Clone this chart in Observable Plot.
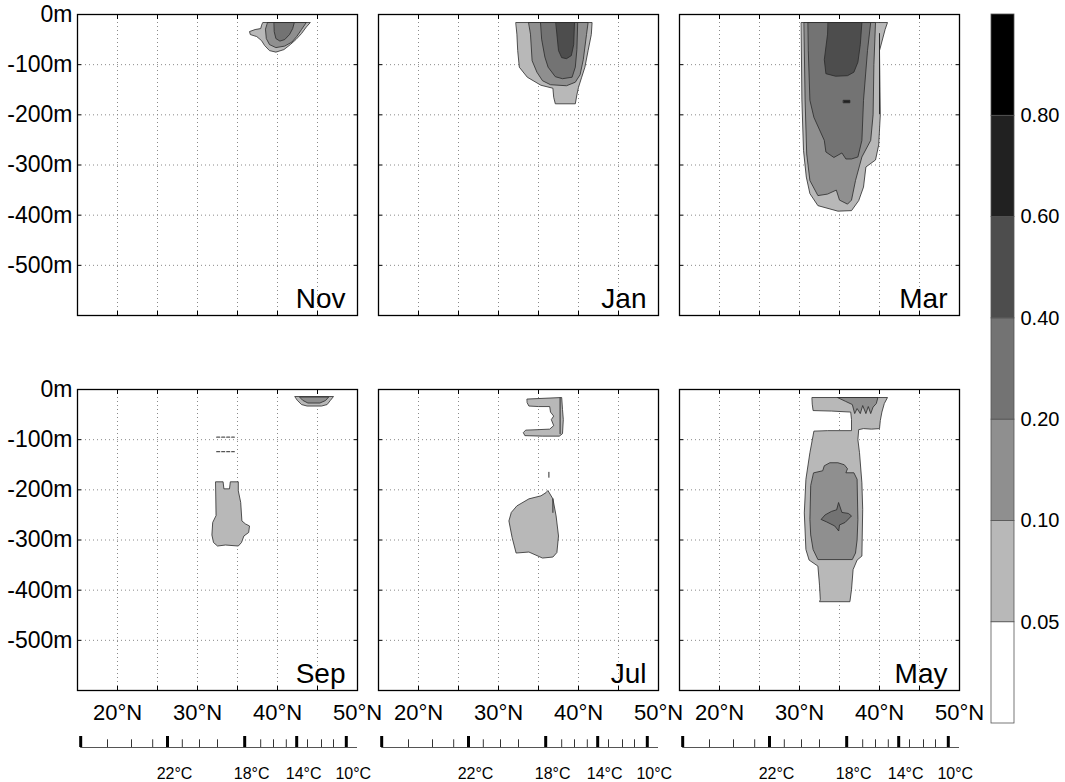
<!DOCTYPE html>
<html><head><meta charset="utf-8">
<script src="https://cdn.jsdelivr.net/npm/d3@7"></script>
<script src="https://cdn.jsdelivr.net/npm/@observablehq/plot@0.6"></script>
<style>
body{margin:0;background:#fff;}
#fig{position:relative;width:1065px;height:782px;overflow:hidden;background:#fff;font-family:"Liberation Sans",Arial,Helvetica,sans-serif;}
#fig svg{position:absolute;}
</style></head><body><div id="fig"></div>
<script>
// ---------- data ----------
const months = ["Nov", "Jan", "Mar", "Sep", "Jul", "May"];
const levels = [0.05, 0.1, 0.2, 0.4, 0.6, 0.8];
const levelGrays = ["#ffffff", "#b8b8b8", "#8f8f8f", "#737373", "#4d4d4d", "#212121", "#000000"];
const depthTicks = [0, -100, -200, -300, -400, -500];
const latGrid = [20, 25, 30, 35, 40, 45];
const latLabels = [20, 30, 40, 50];
const latDomain = [15, 50];
const depthDomain = [-600, 0];
// temperature ruler: temperature (°C) and latitude where its tick sits
const tempC   = [26, 25, 24, 23, 22, 21, 20, 19, 18, 17, 16, 15, 14, 13, 12, 11, 10];
const tempLat = [15.4, 18.75, 21.75, 24.4, 26.25, 28.1, 30.25, 32.5, 35.9, 37.9, 39.5, 41.1, 42.4, 43.75, 45.5, 47.0, 48.6];

// contour regions [lat, depth] for each month, level = lower bound of class
const nov = [
  {level: 0.05, pts: [[38.2,-16],[44.1,-16],[43.6,-25],[43.0,-38],[42.3,-50],[41.6,-60],[40.8,-70],[39.8,-75],[39.0,-72],[38.4,-62],[38.0,-52],[37.4,-44],[36.6,-40],[36.5,-34],[37.2,-30],[37.9,-28],[38.0,-22]]},
  {level: 0.1, pts: [[38.8,-16],[43.6,-16],[43.0,-30],[42.4,-44],[41.8,-55],[40.9,-63],[39.8,-66],[39.0,-60],[38.6,-48],[38.5,-30]]},
  {level: 0.2, pts: [[39.6,-16],[42.1,-16],[41.9,-28],[41.5,-40],[40.9,-50],[40.3,-53],[39.8,-48],[39.6,-35]]}
];
const jan = [
  {level: 0.05, pts: [[32.2,-16],[41.7,-16],[41.6,-40],[41.2,-72],[40.8,-105],[40.4,-125],[40.0,-145],[39.8,-160],[39.6,-178],[37.1,-178],[36.9,-165],[36.8,-147],[35.3,-141],[33.6,-125],[32.6,-105],[32.4,-72],[32.3,-40]]},
  {level: 0.1, pts: [[33.8,-16],[41.2,-16],[41.0,-40],[40.6,-90],[40.2,-120],[39.6,-135],[38.5,-142],[36.5,-140],[35.5,-132],[34.8,-115],[34.2,-92],[34.0,-40]]},
  {level: 0.2, pts: [[35.3,-16],[39.9,-16],[39.8,-70],[39.6,-105],[39.2,-125],[38.0,-128],[37.1,-124],[36.2,-105],[35.8,-85],[35.4,-50]]},
  {level: 0.4, pts: [[37.2,-16],[39.5,-16],[39.4,-60],[39.1,-82],[38.5,-88],[37.9,-86],[37.5,-72],[37.3,-40]]}
];
const mar = [
  {level: 0.05, pts: [[30.25,-16],[41.0,-16],[40.7,-30],[40.0,-72],[40.1,-200],[39.9,-260],[39.5,-290],[38.3,-304],[38.0,-344],[37.4,-371],[36.5,-391],[34.8,-392],[32.3,-381],[31.3,-357],[30.85,-324],[30.5,-271],[30.3,-171]]},
  {level: 0.1, pts: [[30.6,-16],[39.5,-16],[39.3,-100],[39.2,-200],[38.9,-251],[37.8,-284],[37.0,-331],[36.5,-370],[36.0,-378],[35.0,-370],[34.6,-350],[33.5,-358],[32.3,-361],[31.3,-331],[30.9,-278],[30.7,-171]]},
  {level: 0.2, pts: [[31.1,-16],[38.9,-16],[38.5,-72],[38.0,-171],[37.8,-251],[37.3,-284],[36.5,-288],[35.8,-288],[35.3,-276],[34.3,-285],[33.3,-274],[33.1,-251],[31.8,-205],[31.3,-171],[31.1,-72]]},
  {level: 0.4, pts: [[33.6,-16],[37.8,-16],[37.6,-60],[37.3,-95],[36.8,-115],[36.0,-122],[34.5,-123],[33.3,-118],[33.1,-90],[33.5,-40]]},
  {level: 0.6, pts: [[35.5,-171],[36.3,-171],[36.3,-176],[35.5,-176]]}
];
const sep = [
  {level: 0.05, pts: [[42.2,-14],[47.0,-14],[46.6,-22],[46.2,-30],[45.5,-33],[43.7,-33],[43.0,-30],[42.5,-22]]},
  {level: 0.1, pts: [[42.8,-15],[46.4,-15],[46.0,-22],[45.3,-27],[43.8,-27],[43.2,-22]]},
  {level: 0.05, pts: [[32.3,-184],[33.2,-184],[33.3,-198],[34.0,-198],[34.1,-184],[35.1,-184],[35.1,-202],[35.4,-225],[35.55,-262],[36.0,-268],[36.5,-272],[36.4,-285],[35.8,-292],[35.5,-305],[35.1,-312],[33.5,-310],[32.5,-312],[32.0,-305],[31.8,-290],[31.9,-265],[32.3,-252]]}
];
const jul = [
  {level: 0.05, pts: [[33.6,-19],[37.9,-16],[38.0,-40],[38.1,-60],[38.0,-88],[37.6,-93],[35.5,-93],[33.3,-92],[33.1,-86],[33.4,-81],[35.0,-80],[36.4,-79],[36.9,-72],[36.6,-60],[36.9,-53],[36.5,-45],[36.4,-34],[35.0,-34],[33.8,-33],[33.6,-27]]},
  {level: 0.05, pts: [[36.2,-202],[36.8,-218],[37.2,-252],[37.5,-292],[37.3,-325],[36.8,-334],[35.5,-336],[33.8,-324],[32.2,-326],[31.7,-295],[31.3,-262],[31.6,-245],[32.3,-232],[33.8,-218],[35.3,-212],[35.9,-206]]}
];
const may = [
  {level: 0.05, pts: [[31.6,-16],[41.0,-16],[40.6,-28],[40.3,-45],[40.1,-62],[40.0,-78],[39.0,-79],[38.0,-78],[37.4,-80],[37.3,-100],[37.5,-126],[37.8,-186],[37.9,-239],[37.8,-332],[37.2,-340],[36.7,-359],[36.5,-399],[36.3,-423],[32.5,-423],[32.6,-419],[32.5,-390],[32.3,-352],[31.2,-340],[30.8,-319],[30.6,-246],[30.8,-179],[31.3,-126],[31.8,-83],[33.5,-82],[36.5,-82],[36.5,-60],[36.4,-45],[34.0,-43],[31.7,-42],[31.6,-30]]},
  {level: 0.1, pts: [[34.8,-16],[39.8,-16],[39.6,-28],[39.2,-35],[38.9,-48],[38.6,-34],[38.3,-48],[37.9,-32],[37.6,-48],[37.2,-38],[36.9,-48],[36.6,-30],[35.8,-24]]},
  {level: 0.1, pts: [[31.8,-166],[32.9,-162],[33.1,-152],[33.8,-146],[34.8,-146],[35.6,-150],[36.0,-158],[35.8,-166],[36.8,-166],[37.2,-179],[37.3,-259],[37.2,-300],[37.0,-326],[36.6,-339],[32.3,-339],[31.7,-319],[31.4,-290],[31.3,-259],[31.4,-192]]},
  {level: 0.2, pts: [[34.9,-226],[35.3,-245],[36.1,-247],[36.5,-252],[35.7,-265],[35.0,-270],[34.9,-282],[34.4,-272],[33.4,-264],[32.7,-259],[33.2,-250],[34.0,-243],[34.6,-240]]}
];
// open contour lines (dashed/loose isolines)
const sepLines = [
  {dash: true, pts: [[32.4,-95],[34.6,-95]]},
  {dash: true, pts: [[32.4,-124],[34.6,-124]]}
];
const julLines = [
  {dash: false, pts: [[37.7,-17],[37.7,-88]]},
  {dash: false, pts: [[36.3,-165],[36.3,-175]]},
  {dash: false, pts: [[36.8,-218],[36.8,-245]]}
];
const marLines = [{dash: false, pts: [[40.0,-38],[40.0,-198]]}];

const regionsByMonth = {Nov: nov, Jan: jan, Mar: mar, Sep: sep, Jul: jul, May: may};
const linesByMonth = {Nov: [], Jan: [], Mar: marLines, Sep: sepLines, Jul: julLines, May: []};

// ---------- layout ----------
const FONT = "'Liberation Sans', Arial, Helvetica, sans-serif";
const colLeft = [77, 378, 679];
const rowTop = [14, 389];
const PW = 280, PH = 301;
const fig = document.getElementById("fig");
const colorScale = {type: "threshold", domain: levels, range: levelGrays};

function place(svg, left, top) {
  svg.style.left = left + "px";
  svg.style.top = top + "px";
  fig.appendChild(svg);
}

function panel(name, idx) {
  const col = idx % 3, row = Math.floor(idx / 3);
  const mL = col === 0 ? 77 : 2, mR = row === 1 ? 30 : 2, mT = 2, mB = row === 1 ? 40 : 2;
  const regs = regionsByMonth[name].map((r, i) => ({...r, i})).sort((a, b) => a.level - b.level);
  const rows = regs.flatMap(r => r.pts.map(([lat, depth]) => ({id: r.i, level: r.level, lat, depth})));
  const lrows = linesByMonth[name].flatMap((l, i) => l.pts.map(([lat, depth]) => ({id: i, dash: l.dash, lat, depth})));
  const marks = [
    Plot.gridX(latGrid, {stroke: "#8a8a8a", strokeOpacity: 1, strokeDasharray: "1,3"}),
    Plot.gridY(depthTicks.slice(1), {stroke: "#8a8a8a", strokeOpacity: 1, strokeDasharray: "1,3"}),
    Plot.line(rows, {x: "lat", y: "depth", z: "id", fill: "level", stroke: "#2a2a2a", strokeWidth: 0.8, curve: "linear-closed"}),
    Plot.line(lrows.filter(d => d.dash), {x: "lat", y: "depth", z: "id", stroke: "#555", strokeWidth: 1.2, strokeDasharray: "3,2"}),
    Plot.line(lrows.filter(d => !d.dash), {x: "lat", y: "depth", z: "id", stroke: "#2a2a2a", strokeWidth: 1}),
    Plot.axisX({anchor: "bottom", ticks: latGrid, tickSize: -4, tickFormat: () => "", label: null}),
    Plot.axisX({anchor: "top", ticks: latGrid, tickSize: -4, tickFormat: () => "", label: null}),
    Plot.axisY({anchor: "left", ticks: depthTicks, tickSize: -4, tickFormat: () => "", label: null}),
    Plot.axisY({anchor: "right", ticks: depthTicks, tickSize: -4, tickFormat: () => "", label: null}),
    Plot.frame({stroke: "#000", strokeWidth: 1.3}),
    Plot.text([name], {frameAnchor: "bottom-right", textAnchor: "end", lineAnchor: "bottom", dx: -12, dy: -8, fontSize: 28, fill: "#000"})
  ];
  if (col === 0) marks.push(Plot.axisY({anchor: "left", ticks: depthTicks, tickSize: 0, tickPadding: 5, tickFormat: d => d + "m", fontSize: 23, label: null}));
  if (row === 1) marks.push(Plot.axisX({anchor: "bottom", ticks: latLabels, tickSize: 0, tickPadding: 14, tickFormat: d => d + "°N", fontSize: 22, label: null}));
  const svg = Plot.plot({
    width: mL + PW + mR, height: mT + PH + mB,
    marginLeft: mL, marginRight: mR, marginTop: mT, marginBottom: mB,
    x: {domain: latDomain}, y: {domain: depthDomain},
    color: colorScale,
    style: {background: "transparent", overflow: "visible", fontFamily: FONT, color: "#000"},
    marks
  });
  place(svg, colLeft[col] - mL, rowTop[row] - mT);
}
months.forEach(panel);

// temperature rulers under each column
const temps = tempC.map((t, i) => ({t, lat: tempLat[i], major: t % 4 === 2}));
colLeft.forEach(left => {
  const svg = Plot.plot({
    width: 2 + PW + 30, height: 52, marginLeft: 2, marginRight: 30, marginTop: 0, marginBottom: 0,
    x: {domain: latDomain, axis: null}, y: {domain: [0, 1], range: [17, 6], axis: null},
    style: {background: "transparent", overflow: "visible", fontFamily: FONT, color: "#000"},
    marks: [
      Plot.ruleY([0], {x1: tempLat[0], x2: latDomain[1], stroke: "#555", strokeWidth: 1.2}),
      Plot.ruleX(temps, {x: "lat", y1: 0, y2: d => d.major ? 1 : 0.7, stroke: "#000", strokeWidth: d => d.major ? 3 : 0.8}),
      Plot.text(temps.filter(d => d.major && d.t !== tempC[0]), {x: "lat", y: 0, text: d => d.t + "°C", dy: 26, dx: 7, fontSize: 16, fill: "#000"})
    ]
  });
  place(svg, left - 2, 730);
});

// colour bar
const bins = [0, ...levels].map((level, i) => ({level, i}));
const cbar = Plot.plot({
  width: 74, height: 711, marginLeft: 0, marginRight: 0, marginTop: 1, marginBottom: 1,
  x: {domain: [0, 1], range: [0, 23], axis: null},
  y: {domain: [0, 7], axis: null},
  color: colorScale,
  style: {background: "transparent", overflow: "visible", fontFamily: FONT, color: "#000"},
  marks: [
    Plot.rect(bins, {x1: 0, x2: 1, y1: "i", y2: d => d.i + 1, fill: "level", stroke: "#555", strokeWidth: 0.8}),
    Plot.text(bins.slice(1), {x: 1, y: "i", text: d => d.level.toFixed(2), textAnchor: "start", dx: 6, fontSize: 20, fill: "#000"})
  ]
});
place(cbar, 991, 13);
</script></body></html>
